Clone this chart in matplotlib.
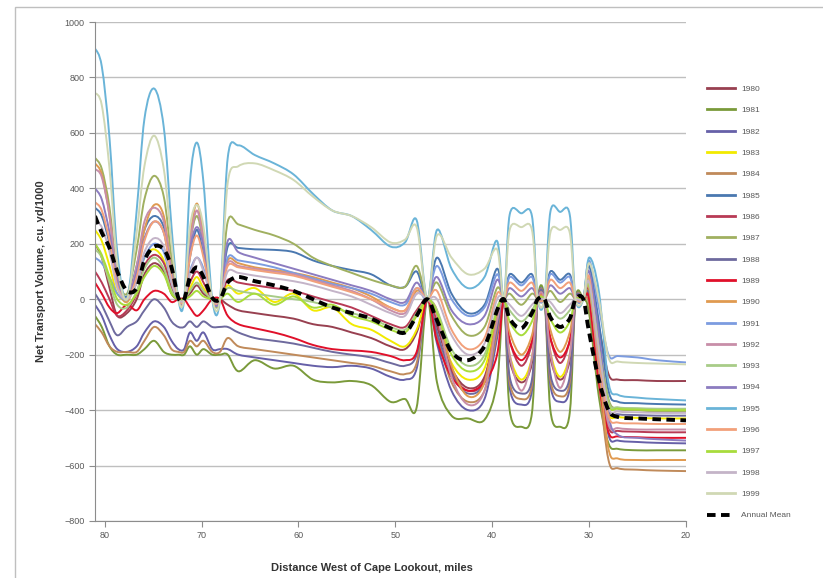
import matplotlib
matplotlib.use('Agg')
import matplotlib.pyplot as plt
import numpy as np
from matplotlib.path import Path
from matplotlib.patches import PathPatch, Rectangle
from matplotlib.lines import Line2D

plt.rcParams['font.family'] = ['Liberation Sans', 'DejaVu Sans']

## Data: distance west of Cape Lookout (miles) and net transport (cu. yd/1000)
miles = [81.0, 80.3, 79.5, 78.7,
         77.7,
         76.7, 75.9, 74.9, 73.9, 73.1,
         72.4, 71.8,
         71.2, 70.5, 69.8,
         68.9, 68.1,
         67.3, 66.2, 64.5, 62.5, 60.5, 58.5, 56.5, 54.5, 52.5, 50.5, 49.0, 47.8,
         46.7,
         45.7, 44.2, 42.5, 40.8, 39.5,
         38.8,
         38.2, 37.0, 35.9,
         35.3, 34.6,
         34.0, 33.0, 32.0,
         31.4, 30.6,
         30.0, 29.0, 28.0, 27.0, 25.0, 23.0, 20.0]

years = ['1980', '1981', '1982', '1983', '1984', '1985', '1986', '1987', '1988', '1989',
         '1990', '1991', '1992', '1993', '1994', '1995', '1996', '1997', '1998', '1999']

v1980 = [200, 150, 40, -60, -50, 0, 90, 130, 100, 20, 0, 0, 20, 50, 20, 0, 0,
         -20, -40, -50, -60, -70, -90, -100, -120, -140, -170, -180, -120, 0,
         -100, -250, -320, -280, -80, 0, -220, -300, -230, 0, 0, -210, -290, -220, 0, 0,
         60, -100, -270, -290, -292, -295, -295]
v1981 = [-60, -100, -170, -200, -200, -200, -180, -150, -190, -200, -200, -200, -170, -200, -180, -200, -200,
         -200, -260, -220, -250, -240, -290, -300, -295, -310, -370, -360, -390, 0,
         -300, -420, -430, -435, -300, 0, -400, -460, -410, 0, 0, -400, -460, -410, 0, 0,
         -50, -350, -520, -540, -545, -545, -545]
v1982 = [-20, -60, -130, -180, -190, -170, -120, -80, -100, -150, -180, -180, -120, -150, -120, -180, -180,
         -180, -200, -210, -220, -230, -240, -245, -240, -250, -280, -290, -250, 0,
         -160, -330, -400, -360, -140, 0, -320, -380, -330, 0, 0, -310, -370, -320, 0, 0,
         0, -260, -490, -510, -515, -518, -520]
v1983 = [250, 210, 120, 20, 0, 60, 150, 180, 140, 40, 0, 0, 40, 80, 40, 0, 0,
         50, 20, 40, -10, 20, -40, -30, -90, -110, -150, -170, -110, 0,
         -80, -230, -290, -250, -60, 0, -200, -290, -210, 0, 0, -190, -280, -200, 0, 0,
         30, -220, -410, -425, -428, -430, -430]
v1984 = [-90, -120, -170, -190, -190, -190, -150, -100, -130, -180, -190, -190, -150, -170, -150, -190, -190,
         -140, -170, -180, -190, -200, -210, -220, -230, -240, -260, -270, -230, 0,
         -130, -300, -370, -330, -120, 0, -300, -360, -310, 0, 0, -290, -350, -300, 0, 0,
         -20, -300, -580, -610, -615, -618, -620]
v1985 = [330, 300, 200, 60, 10, 120, 250, 300, 260, 110, 0, 0, 150, 250, 160, 0, 0,
         190, 185, 180, 178, 170, 140, 120, 105, 90, 50, 45, 100, 0,
         150, 20, -50, -20, 110, 0, 90, 60, 90, 0, 0, 100, 70, 90, 0, 0,
         120, -80, -330, -370, -375, -378, -380]
v1986 = [100, 60, 0, -60, -40, 20, 120, 160, 130, 40, 0, 0, 60, 100, 60, 0, 0,
         70, 60, 50, 40, 30, 10, -10, -30, -60, -90, -100, -40, 0,
         -80, -260, -330, -290, -70, 0, -150, -240, -160, 0, 0, -140, -230, -150, 0, 0,
         30, -250, -460, -475, -478, -480, -480]
v1987 = [510, 470, 330, 90, 20, 180, 360, 445, 370, 150, 0, 0, 200, 300, 200, 0, 0,
         280, 270, 250, 230, 200, 150, 120, 95, 70, 50, 45, 120, 0,
         60, -60, -130, -100, 40, 0, 20, -20, 20, 0, 0, 30, -10, 20, 0, 0,
         60, -150, -360, -395, -400, -405, -405]
v1988 = [20, -20, -80, -130, -100, -80, -40, 0, -30, -80, -100, -100, -80, -100, -80, -100, -100,
         -100, -120, -140, -150, -160, -175, -190, -200, -210, -230, -240, -200, 0,
         -120, -270, -340, -300, -100, 0, -280, -340, -290, 0, 0, -270, -330, -280, 0, 0,
         20, -200, -400, -415, -418, -420, -420]
v1989 = [60, 20, -30, -50, -20, -40, 0, 30, 20, -10, 0, 0, -30, -60, -40, 0, 0,
         -60, -90, -105, -120, -140, -165, -180, -185, -190, -205, -220, -190, 0,
         -150, -280, -330, -300, -200, 0, -150, -220, -150, 0, 0, -140, -210, -150, 0, 0,
         0, -300, -480, -495, -498, -500, -500]
v1990 = [490, 450, 300, 60, -10, 90, 250, 340, 300, 100, 0, 0, 220, 345, 230, 0, 0,
         140, 130, 115, 105, 95, 80, 60, 40, 10, -30, -40, 30, 0,
         -40, -240, -350, -300, -60, 0, -120, -200, -130, 0, 0, -110, -190, -120, 0, 0,
         40, -250, -540, -575, -580, -580, -580]
v1991 = [150, 130, 80, 20, 0, 60, 150, 200, 170, 60, 0, 0, 100, 150, 110, 0, 0,
         150, 140, 130, 115, 95, 75, 55, 40, 20, -10, -20, 40, 0,
         120, 0, -60, -30, 90, 0, 80, 50, 80, 0, 0, 90, 60, 80, 0, 0,
         140, -30, -200, -205, -210, -220, -228]
v1992 = [470, 440, 300, 80, 0, 120, 280, 330, 280, 100, 0, 0, 200, 320, 210, 0, 0,
         130, 120, 110, 100, 90, 70, 50, 30, 0, -40, -50, 20, 0,
         -60, -280, -380, -330, -80, 0, -200, -330, -210, 0, 0, -190, -320, -200, 0, 0,
         50, -230, -450, -465, -470, -470, -470]
v1993 = [180, 150, 60, -20, -30, 30, 110, 150, 110, 30, 0, 0, 30, 60, 30, 0, 0,
         40, 30, 20, 10, 0, -10, -30, -50, -70, -100, -110, -50, 0,
         -40, -180, -240, -200, -30, 0, -40, -80, -40, 0, 0, -30, -70, -40, 0, 0,
         70, -160, -370, -390, -393, -395, -395]
v1994 = [400, 360, 240, 70, 0, 100, 220, 280, 240, 90, 0, 0, 180, 260, 190, 0, 0,
         210, 170, 150, 130, 110, 90, 70, 50, 30, 0, -10, 60, 0,
         80, -40, -90, -60, 70, 0, 40, 10, 40, 0, 0, 50, 20, 40, 0, 0,
         100, -120, -420, -490, -500, -505, -510]
v1995 = [905, 840, 580, 170, 0, 320, 650, 760, 620, 260, 0, 0, 420, 565, 420, 0, 0,
         510, 555, 520, 490, 450, 380, 320, 300, 250, 190, 205, 285, 0,
         250, 110, 40, 80, 210, 0, 305, 310, 300, 0, 0, 315, 315, 305, 0, 0,
         150, 30, -300, -345, -355, -360, -365]
v1996 = [350, 320, 210, 50, 0, 80, 210, 280, 240, 80, 0, 0, 150, 230, 150, 0, 0,
         120, 115, 105, 95, 85, 65, 45, 25, 0, -30, -40, 40, 0,
         30, -110, -180, -140, 20, 0, 60, 30, 60, 0, 0, 70, 40, 60, 0, 0,
         80, -200, -420, -445, -448, -450, -450]
v1997 = [200, 160, 80, 0, -20, 20, 80, 120, 90, 20, 0, 0, 10, 30, 10, 0, 0,
         20, -10, 20, -20, 10, -30, -20, -60, -80, -110, -120, -60, 0,
         -50, -200, -260, -220, -40, 0, -80, -130, -80, 0, 0, -70, -120, -80, 0, 0,
         50, -180, -380, -395, -398, -400, -400]
v1998 = [280, 260, 170, 40, 0, 60, 170, 220, 190, 60, 0, 0, 90, 150, 100, 0, 0,
         100, 95, 85, 75, 65, 50, 30, 10, -20, -50, -60, 20, 0,
         0, -130, -200, -160, 0, 0, -20, -60, -20, 0, 0, -10, -50, -20, 0, 0,
         60, -180, -390, -405, -408, -410, -410]
v1999 = [745, 700, 470, 130, 0, 240, 480, 590, 470, 200, 0, 0, 260, 340, 260, 0, 0,
         420, 480, 490, 465, 430, 370, 320, 300, 260, 205, 215, 260, 0,
         230, 150, 90, 110, 180, 0, 250, 260, 250, 0, 0, 240, 250, 240, 0, 0,
         130, 0, -210, -225, -230, -232, -235]

annual_mean = [300, 240, 185, 100, 30, 40, 140, 190, 180, 115, 5, 0, 80, 115, 80, 5, 0,
               60, 80, 65, 50, 30, 0, -30, -50, -70, -105, -120, -60, 0,
               -76, -190, -220, -170, -40, 0, -70, -105, -50, 0, 0, -65, -100, -70, 0, 0,
               -120, -290, -400, -425, -430, -433, -437]

series = [v1980, v1981, v1982, v1983, v1984, v1985, v1986, v1987, v1988, v1989,
          v1990, v1991, v1992, v1993, v1994, v1995, v1996, v1997, v1998, v1999]

colors = ['#984050', '#7A9A3A', '#6660A8', '#F2EA00', '#C08A5A', '#4A78B0', '#B83A55',
          '#A0B060', '#6E6A9E', '#E0102A', '#E09A50', '#7C9CE0', '#C88EA8', '#A8CC88',
          '#8C7CC0', '#6AB4D8', '#F2A07A', '#A8DC3C', '#C4B4C8', '#D0D8B4']


def smooth_path(x, y):
    # Excel style smoothed line: Catmull-Rom segments as cubic Beziers
    pts = np.column_stack([x, y]).astype(float)
    ext = np.vstack([pts[0], pts, pts[-1]])
    verts = [pts[0]]
    codes = [Path.MOVETO]
    for i in range(len(pts) - 1):
        p0, p1, p2, p3 = ext[i], ext[i + 1], ext[i + 2], ext[i + 3]
        verts += [p1 + (p2 - p0) / 6, p2 - (p3 - p1) / 6, p2]
        codes += [Path.CURVE4] * 3
    return Path(verts, codes)


fig = plt.figure(figsize=(8.23, 5.78), dpi=100)
ax = fig.add_axes([95 / 823, 1 - 521 / 578, 591 / 823, 499 / 578])

for vals, c in zip(series, colors):
    ax.add_patch(PathPatch(smooth_path(miles, vals), facecolor='none', edgecolor=c, lw=1.4))
ax.add_patch(PathPatch(smooth_path(miles, annual_mean), facecolor='none', edgecolor='black',
                       lw=2.8, linestyle=(0, (2.2, 1.4)), capstyle='butt'))

ax.set_xlim(81, 20)
ax.set_ylim(-800, 1000)
ax.set_xticks([80, 70, 60, 50, 40, 30, 20])
ax.set_yticks(np.arange(-800, 1001, 200))
ax.yaxis.grid(True, color='#BFBFBF', lw=1)
ax.set_axisbelow(True)
for s in ['top', 'right']:
    ax.spines[s].set_visible(False)
for s in ['left', 'bottom']:
    ax.spines[s].set_color('#8C8C8C')
ax.tick_params(labelsize=6.5, labelcolor='#595959', color='#8C8C8C', length=4, width=0.8)

ax.set_ylabel('Net Transport Volume, cu. yd/1000', fontsize=8, fontweight='bold', color='#333333')
ax.yaxis.set_label_coords(-0.083, 0.5)
ax.set_xlabel('Distance West of Cape Lookout, miles', fontsize=8, fontweight='bold', color='#333333')
ax.xaxis.set_label_coords(0.469, -0.084)

handles = [Line2D([], [], color=c, lw=2) for c in colors]
handles.append(Line2D([], [], color='black', lw=2.8, linestyle=(0, (2.2, 1.4))))
labels = years + ['Annual Mean']
leg = fig.legend(handles, labels, loc='upper left', bbox_to_anchor=(707 / 823, 1 - 85 / 578),
                 frameon=False, fontsize=6, handlelength=3.4, handletextpad=0.7,
                 labelspacing=1.62, borderpad=0, borderaxespad=0)
for t in leg.get_texts():
    t.set_color('#595959')

fig.add_artist(Rectangle((15 / 823, -0.1), 1.2, 1.1 - 7 / 578, transform=fig.transFigure,
                         fill=False, edgecolor='#BFBFBF', lw=1))

fig.savefig('out.png', dpi=100)
